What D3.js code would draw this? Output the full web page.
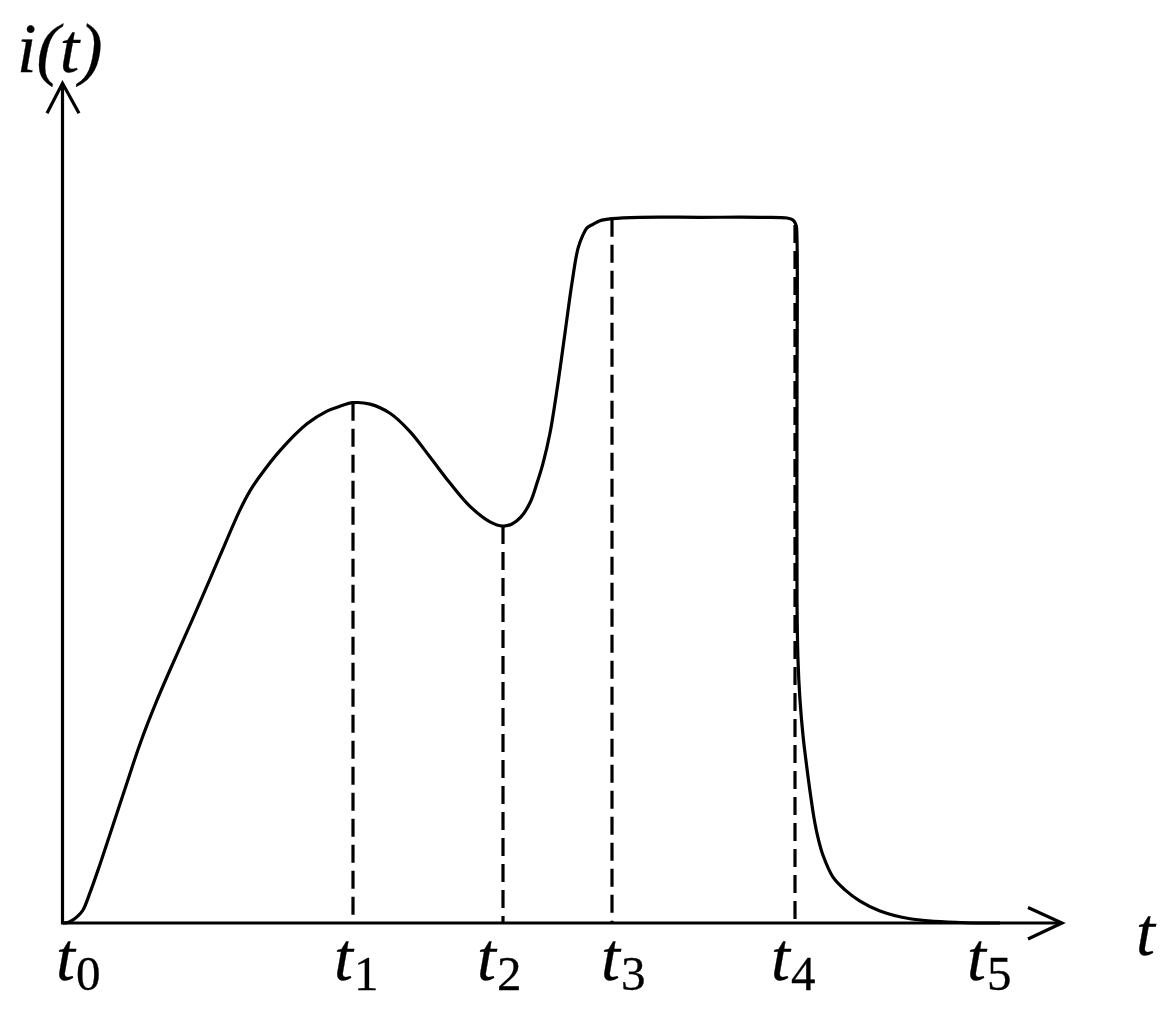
<!DOCTYPE html>
<html><head><meta charset="utf-8">
<script src="https://cdn.jsdelivr.net/npm/d3@7"></script>
<style>body{margin:0;background:#fff}svg{display:block}</style>
</head><body>
<svg id="chart" width="1175" height="1009"></svg>
<script>
// ---- data (time units, current units) ----
const timeValues = [0, 0.5, 1.0, 1.5, 2.0, 2.7, 3.5, 4.4, 6.4, 7.7, 9.4, 11.7, 13.7, 15.7, 17.7, 18.7, 19.7, 21.7, 24.4, 26.4, 27.7, 29.0,
  30.7, 32.7, 34.7, 36.7, 38.7, 40.7, 42.7, 44.0, 44.9, 45.8, 46.7, 47.4, 48.0, 48.7, 49.5, 50.2, 50.9, 51.5, 52.0, 52.4, 53.0, 53.7,
  54.9, 57.7, 63.7, 69.7, 72.4, 73.0, 73.3, 73.4, 73.4, 73.4, 73.5, 73.7, 74.0, 74.3, 74.7, 75.1, 75.5, 76.0, 77.0, 78.2, 79.7, 81.7, 84.7, 89.7, 93.7];
const currentValues = [0, 0.07, 0.43, 1.0, 1.84, 4.3, 7.5, 11.3, 19.9, 25.4, 31.6, 39.1, 45.5, 52.1, 58.6, 61.3, 63.4, 67.0, 70.8, 72.6, 73.3, 73.8,
  73.6, 72.3, 69.7, 66.1, 62.4, 59.1, 56.9, 56.3, 56.6, 57.6, 59.6, 62.4, 65.2, 69.5, 76.6, 83.7, 90.8, 95.7, 97.6, 98.6, 99.1, 99.6,
  99.9, 100.1, 100.1, 100.1, 100.0, 99.7, 99.0, 96.9, 74.2, 45.8, 37.3, 31.6, 26.6, 23.0, 18.7, 14.9, 12.1, 9.6, 6.5, 4.7, 3.1, 1.7, 0.6, 0.07, 0];
const markerTimes = [29.0, 44.0, 54.9, 73.2];
const markerTops = [73.8, 56.3, 99.9, 99.0];
const tickSubscripts = ["0", "1", "2", "3", "4", "5"];
const tickLabelTimes = [-0.7, 27.1, 41.4, 53.8, 70.8, 90.4];
const yAxisLabel = "i(t)";
const xAxisLabel = "t";
const xAxisEnd = 99.9;
const yAxisEnd = 119.1;

// ---- drawing ----
const svg = d3.select("#chart");
svg.append("rect").attr("width", 1175).attr("height", 1009).attr("fill", "#fff");
const x = d3.scaleLinear().domain([0, 100]).range([63, 1063]);
const y = d3.scaleLinear().domain([0, 100]).range([923, 218]);
const black = "#000";
const sw = 3.2;

// dashed markers
svg.append("g").selectAll("line").data(markerTimes).join("line")
  .attr("x1", d => x(d)).attr("x2", d => x(d))
  .attr("y1", (d, i) => y(markerTops[i])).attr("y2", y(0))
  .attr("stroke", black).attr("stroke-width", sw).attr("stroke-dasharray", "18,8");

// axes
svg.append("line").attr("x1", x(0)).attr("x2", x(xAxisEnd)).attr("y1", y(0)).attr("y2", y(0))
  .attr("stroke", black).attr("stroke-width", sw);
svg.append("line").attr("x1", x(0) - 0.5).attr("x2", x(0) - 0.5).attr("y1", y(0) + 1.5).attr("y2", y(yAxisEnd))
  .attr("stroke", black).attr("stroke-width", sw);
// arrow heads
const xt = [x(xAxisEnd), y(0)];
svg.append("path").attr("d", `M${xt[0]-34},${xt[1]-15.5}L${xt[0]},${xt[1]}L${xt[0]-34},${xt[1]+16}`)
  .attr("fill", "none").attr("stroke", black).attr("stroke-width", sw);
const yt = [x(0) - 0.5, y(yAxisEnd)];
svg.append("path").attr("d", `M${yt[0]-15.5},${yt[1]+30}L${yt[0]},${yt[1]}L${yt[0]+16.5},${yt[1]+30}`)
  .attr("fill", "none").attr("stroke", black).attr("stroke-width", sw);

// curve
const pts = timeValues.map((t, i) => [t, currentValues[i]]);
svg.append("path").datum(pts)
  .attr("d", d3.line().x(d => x(d[0])).y(d => y(d[1])).curve(d3.curveCatmullRom.alpha(0.5)))
  .attr("fill", "none").attr("stroke", black).attr("stroke-width", sw).attr("stroke-linejoin", "round");

// tick labels
const font = "'Liberation Serif', 'Times New Roman', serif";
const lab = svg.append("g").selectAll("text").data(tickSubscripts).join("text")
  .attr("x", (d, i) => x(tickLabelTimes[i])).attr("y", 980)
  .attr("font-family", font).attr("fill", black).attr("stroke", black).attr("stroke-width", 0.3);
lab.append("tspan").attr("font-style", "italic").attr("font-size", 68).text("t");
lab.append("tspan").attr("font-size", 49).attr("dy", 10).attr("dx", 1).text(d => d);

svg.append("text").attr("x", 1136).attr("y", 955).attr("font-family", font)
  .attr("font-style", "italic").attr("font-size", 68).attr("fill", black)
  .attr("stroke", black).attr("stroke-width", 0.3).text(xAxisLabel);
svg.append("text").attr("x", 17).attr("y", 72).attr("font-family", font)
  .attr("font-style", "italic").attr("font-size", 70).attr("fill", black)
  .attr("stroke", black).attr("stroke-width", 0.3).text(yAxisLabel);
</script>
</body></html>
